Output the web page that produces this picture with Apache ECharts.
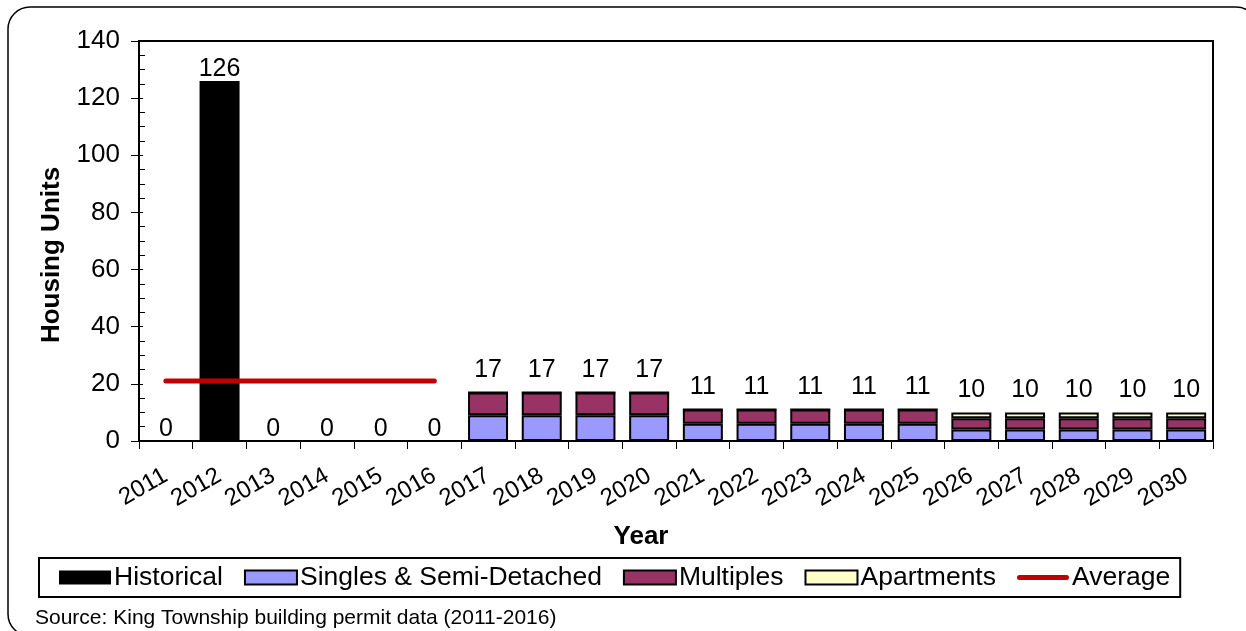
<!DOCTYPE html>
<html><head><meta charset="utf-8">
<script src="https://cdn.jsdelivr.net/npm/echarts@6/dist/echarts.min.js"></script>
<style>html,body{margin:0;padding:0;background:#fff}#c{width:1246px;height:631px}</style>
</head><body><div id="c"></div>
<script>
const years = ['2011','2012','2013','2014','2015','2016','2017','2018','2019','2020','2021','2022','2023','2024','2025','2026','2027','2028','2029','2030'];
const historical = [0,126,0,0,0,0,null,null,null,null,null,null,null,null,null,null,null,null,null,null];
const singles = [null,null,null,null,null,null,9,9,9,9,6,6,6,6,6,4,4,4,4,4];
const multiples = [null,null,null,null,null,null,8,8,8,8,5,5,5,5,5,4,4,4,4,4];
const apartments = [null,null,null,null,null,null,0,0,0,0,0,0,0,0,0,2,2,2,2,2];
const average = [21,21,21,21,21,21,null,null,null,null,null,null,null,null,null,null,null,null,null,null];
const yTicks = [0,20,40,60,80,100,120,140];

const totals = years.map((y,i)=> i<6 ? null : (singles[i]||0)+(multiples[i]||0)+(apartments[i]||0));
const FONT = '"Liberation Sans", Arial, sans-serif';
const chart = echarts.init(document.getElementById('c'), null, {renderer:'canvas'});
const barBorder = {borderColor:'#000', borderWidth:2};
const BW = 39;
chart.setOption({
  animation:false,
  textStyle:{fontFamily:FONT, color:'#000'},
  grid:{left:139, top:41, right:33, bottom:190, show:true, borderColor:'#000', borderWidth:2, containLabel:false},
  legend:{
    data:['Historical','Singles & Semi-Detached','Multiples','Apartments',
      {name:'Average', icon:'path://M2.5,0 H49.5 A2.5,2.5 0 0 1 49.5,5 H2.5 A2.5,2.5 0 0 1 2.5,0 Z'}],
    icon:'rect',
    left:39, top:558, itemGap:21, itemWidth:52, itemHeight:14,
    padding:[6,10,6,20], borderColor:'#000', borderWidth:2, backgroundColor:'#fff',
    textStyle:{fontFamily:FONT, fontSize:26.5, color:'#000', padding:[0,0,0,-2]}
  },
  xAxis:{
    type:'category', data:years,
    axisLine:{lineStyle:{color:'#000', width:2}},
    axisTick:{show:true, length:8, lineStyle:{color:'#000', width:1}},
    axisLabel:{rotate:30, fontSize:24, color:'#000', margin:33, interval:0, fontFamily:FONT}
  },
  yAxis:[{
    type:'value', min:0, max:140, interval:20,
    axisLine:{show:true, lineStyle:{color:'#000', width:2}},
    axisTick:{show:true, length:8, lineStyle:{color:'#000', width:1}},
    axisLabel:{fontSize:26, color:'#000', margin:19, fontFamily:FONT,
      formatter:v=> yTicks.indexOf(v)>=0 ? String(v) : ''},
    splitLine:{show:false}
  },{
    type:'value', min:0, max:140, interval:20, position:'left',
    axisLine:{show:false}, axisLabel:{show:false}, splitLine:{show:false},
    axisTick:{show:true, inside:true, length:4, lineStyle:{color:'#000', width:1}},
    minorTick:{show:true, splitNumber:4, length:6, lineStyle:{color:'#000', width:1}}
  }],
  graphic:[
    {type:'rect', shape:{x:8, y:7, width:1250, height:629, r:22}, style:{fill:'none', stroke:'#000', lineWidth:1.5}, z:-10},
    {type:'text', x:52, y:255, rotation:Math.PI/2, style:{text:'Housing Units', font:'bold 26px '+FONT, fill:'#000', align:'center', verticalAlign:'middle'}},
    {type:'text', x:641, y:537, style:{text:'Year', font:'bold 26px '+FONT, fill:'#000', align:'center', verticalAlign:'middle'}},
    {type:'text', x:35, y:618, style:{text:'Source: King Township building permit data (2011-2016)', font:'21px '+FONT, fill:'#000', verticalAlign:'middle'}}
  ],
  series:[
    {name:'Historical', type:'bar', stack:'s', data:historical, barWidth:BW+1,
      itemStyle:{color:'#000', borderColor:'#000', borderWidth:0},
      label:{show:true, position:'top', fontSize:25, color:'#000', fontFamily:FONT, distance:-1}},
    {name:'Singles & Semi-Detached', type:'bar', stack:'s', data:singles, barWidth:BW,
      itemStyle:Object.assign({color:'#9999FF'}, barBorder)},
    {name:'Multiples', type:'bar', stack:'s', data:multiples, barWidth:BW,
      itemStyle:Object.assign({color:'#993366'}, barBorder)},
    {name:'Apartments', type:'bar', stack:'s', data:apartments, barWidth:BW,
      itemStyle:Object.assign({color:'#FFFFCC'}, barBorder)},
    {name:'totalLabel', type:'bar', stack:'s', barWidth:BW,
      data:totals.map(t=> t===null ? null : 0),
      itemStyle:{color:'transparent', borderWidth:0},
      label:{show:true, position:'top', fontSize:25, color:'#000', fontFamily:FONT, distance:10,
        formatter:p=> String(totals[p.dataIndex])}},
    {name:'Average', type:'line', data:average, symbol:'none',
      lineStyle:{color:'#C00000', width:5, cap:'round'}, itemStyle:{color:'#C00000'}, z:5}
  ]
});
</script></body></html>
